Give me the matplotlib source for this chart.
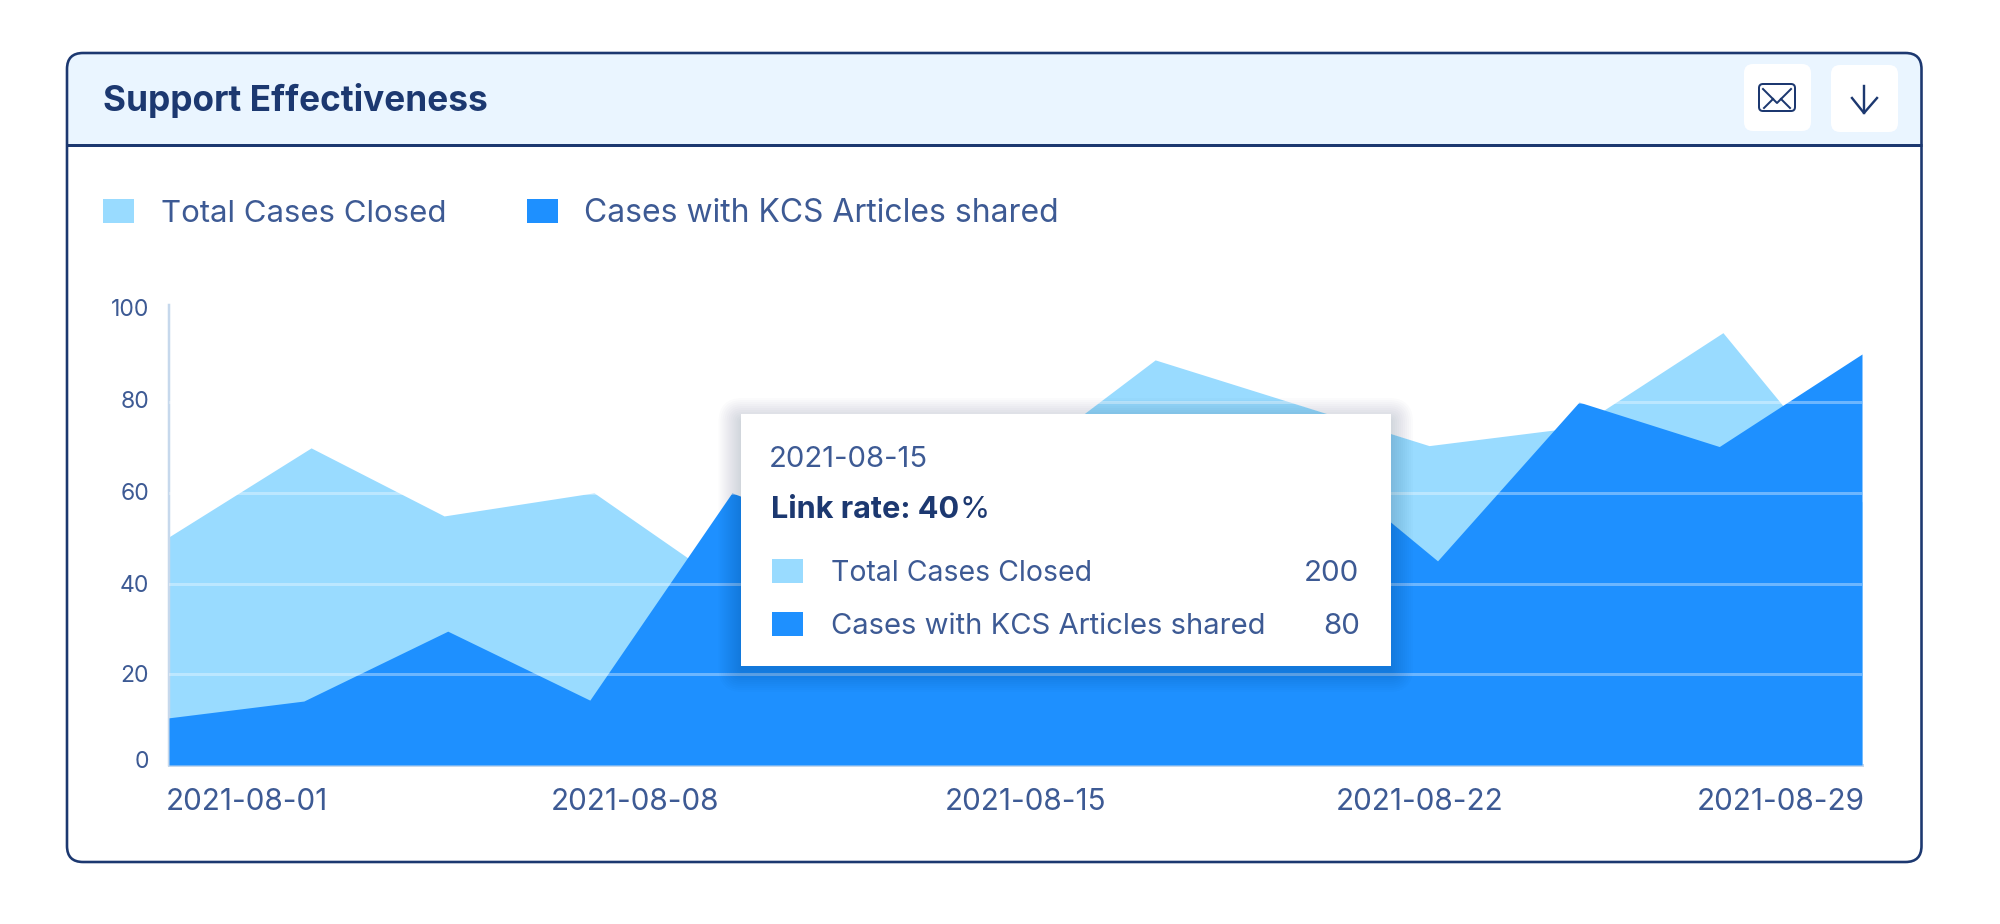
import matplotlib
matplotlib.use('Agg')
import matplotlib.pyplot as plt
from matplotlib.patches import FancyBboxPatch, Rectangle
from matplotlib.transforms import ScaledTranslation

plt.rcParams['font.family'] = ['Inter', 'DejaVu Sans']

# days since 2021-08-01
total_days = [0, 2.35, 4.55, 7.03, 9.44, 11.76, 13.9, 16.31, 20.84, 23.3, 25.7, 28]
total_cases = [50.3, 69.9, 54.9, 60, 37.7, 48, 65, 89.3, 70.4, 74.5, 95.3, 58]
kcs_days = [0, 2.23, 4.61, 6.96, 9.31, 11.66, 14.0, 16.36, 18.71, 20.98, 23.32, 25.64, 28]
kcs_cases = [10.4, 14.1, 29.5, 14.3, 60, 48, 62, 70, 70, 45, 80, 70.2, 90.6]
y_ticks = [0, 20, 40, 60, 80, 100]
date_labels = ['2021-08-01', '2021-08-08', '2021-08-15', '2021-08-22', '2021-08-29']
date_label_days = [1.28, 7.7, 14.17, 20.68, 26.66]

LIGHT = '#99DBFF'
BLUE = '#1E90FF'
NAVY = '#1C3870'
TEXT = '#3D5A94'
AXIS = '#C6D8EC'
HEADER = '#EAF5FF'


def px(n):
    return n * 0.72


fig = plt.figure(figsize=(20, 9.24), dpi=100, facecolor='white')


def pixel_axes(z):
    a = fig.add_axes([0, 0, 1, 1], zorder=z)
    a.set_xlim(0, 2000)
    a.set_ylim(924, 0)
    a.axis('off')
    a.patch.set_alpha(0)
    return a


# card and header
bg = pixel_axes(0)
card = FancyBboxPatch((67, 53), 1854.5, 809, boxstyle='round,pad=0,rounding_size=16',
                      fc='white', ec='none')
bg.add_patch(card)
head = Rectangle((67, 53), 1855, 92, fc=HEADER, ec='none')
bg.add_patch(head)
head.set_clip_path(card)
bg.add_patch(FancyBboxPatch((67, 53), 1854.5, 809, boxstyle='round,pad=0,rounding_size=16',
                            fc='none', ec=NAVY, lw=px(2.6)))
bg.plot([67, 1921.5], [145, 145], color=NAVY, lw=px(3), solid_capstyle='butt')
bg.text(103, 101, 'Support Effectiveness', fontsize=px(35.2), fontweight='bold', color=NAVY,
        va='center', ha='left')

# buttons
for x0, y0 in [(1744, 64), (1831, 65)]:
    bg.add_patch(FancyBboxPatch((x0, y0), 67, 67, boxstyle='round,pad=0,rounding_size=9',
                                fc='white', ec='none'))
bg.add_patch(FancyBboxPatch((1759, 84), 36, 27, boxstyle='round,pad=0,rounding_size=4',
                            fc='none', ec=NAVY, lw=px(2)))
bg.plot([1763, 1777, 1791], [89, 103, 89], color=NAVY, lw=px(2))
bg.plot([1764, 1773], [108, 99], color=NAVY, lw=px(2))
bg.plot([1790, 1781], [108, 99], color=NAVY, lw=px(2))
bg.plot([1864, 1864], [86, 113], color=NAVY, lw=px(2.4))
bg.plot([1852, 1864, 1877], [98, 113, 98], color=NAVY, lw=px(2.4))

# legend
bg.add_patch(Rectangle((103, 199), 31, 24, fc=LIGHT, ec='none'))
bg.text(161, 214, 'Total Cases Closed', fontsize=px(31.1), color=TEXT, va='center', ha='left')
bg.add_patch(Rectangle((527, 199), 31, 24, fc=BLUE, ec='none'))
bg.text(584, 214, 'Cases with KCS Articles shared', fontsize=px(31.9), color=TEXT, va='center', ha='left')

# chart
ax = fig.add_axes([169 / 2000, (924 - 765) / 924, 1693 / 2000, 460 / 924], zorder=1)
ax.patch.set_alpha(0)
ax.fill_between(total_days, total_cases, 0, color=LIGHT, lw=0, zorder=2)
ax.fill_between(kcs_days, kcs_cases, 0, color=BLUE, lw=0, zorder=3)
ax.set_xlim(0, 28)
ax.set_ylim(0, 101.4)
ax.set_yticks(y_ticks)
ax.set_xticks(date_label_days)
ax.set_xticklabels(date_labels)
ax.tick_params(axis='y', length=0, pad=px(20), labelsize=px(23), labelcolor=TEXT)
ax.tick_params(axis='x', length=0, pad=px(23.5), labelsize=px(29.7), labelcolor=TEXT)
# the y labels sit a little above their grid lines in the original
for lab, up in zip(ax.get_yticklabels(), [5, 1, 0, 1, 2.5, 3.5]):
    lab.set_transform(lab.get_transform() + ScaledTranslation(0, up / 100, fig.dpi_scale_trans))
for v in y_ticks[1:5]:
    ax.axhline(v, color='white', alpha=0.35, lw=px(3), zorder=4)
for s in ['top', 'right']:
    ax.spines[s].set_visible(False)
ax.spines['left'].set_color(AXIS)
ax.spines['left'].set_linewidth(px(2.5))
ax.spines['bottom'].set_color(AXIS)
ax.spines['bottom'].set_linewidth(px(3))

# tooltip
top = pixel_axes(2)
for i in range(12):
    g = 22 - i * 2
    top.add_patch(FancyBboxPatch((740.5 - g, 420 - g), 650.5 + 2 * g, 250 + 2 * g,
                                 boxstyle='round,pad=0,rounding_size=%d' % (g + 2),
                                 fc='#0A2A50', ec='none', alpha=0.014))
top.add_patch(Rectangle((740.5, 414), 650.5, 252, fc='white', ec='none'))
top.text(769, 459.5, '2021-08-15', fontsize=px(29.2), color=TEXT, va='center', ha='left')
link = top.text(771, 510, 'Link rate: 40', fontsize=px(30.7), fontweight='bold', color=NAVY,
                va='center', ha='left')
fig.canvas.draw()
link_right = link.get_window_extent().x1
top.text(link_right, 510, '%', fontsize=px(30.7), color=NAVY, va='center', ha='left')
top.add_patch(Rectangle((772, 559), 31, 24, fc=LIGHT, ec='none'))
top.add_patch(Rectangle((772, 612), 31, 24, fc=BLUE, ec='none'))
top.text(831, 573.5, 'Total Cases Closed', fontsize=px(28.4), color=TEXT, va='center', ha='left')
top.text(831, 626.5, 'Cases with KCS Articles shared', fontsize=px(29.2), color=TEXT, va='center', ha='left')
top.text(1359, 573.5, '200', fontsize=px(29.5), color=TEXT, va='center', ha='right')
top.text(1360, 626.5, '80', fontsize=px(29.5), color=TEXT, va='center', ha='right')

fig.savefig('out.png', dpi=100)
